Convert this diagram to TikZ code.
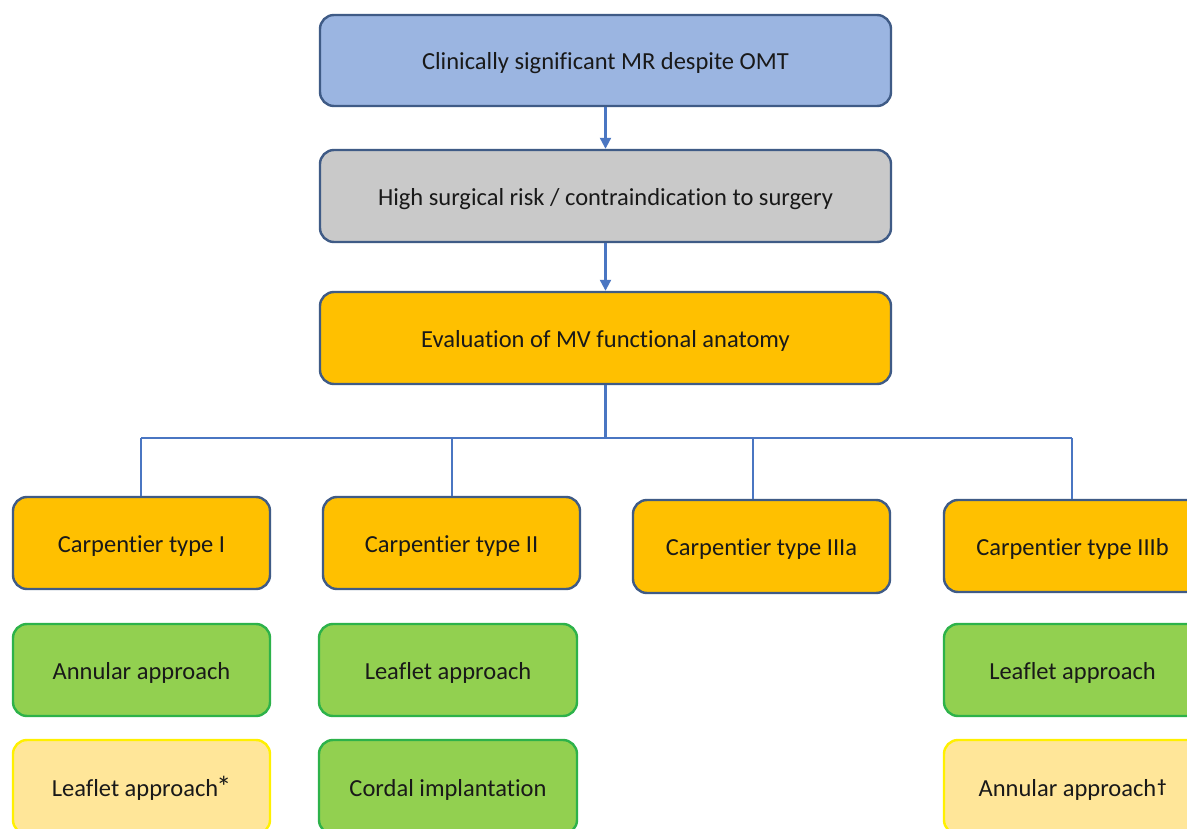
\documentclass[tikz,border=0pt]{standalone}
\usepackage{fontspec}
\setmainfont[Ligatures=CommonOff]{Carlito}
\usetikzlibrary{arrows.meta}
\definecolor{bluefill}{HTML}{9BB5E1}
\definecolor{grayfill}{HTML}{C9C9C9}
\definecolor{orangefill}{HTML}{FFC000}
\definecolor{greenfill}{HTML}{92D050}
\definecolor{greenline}{HTML}{2DB24A}
\definecolor{yellowfill}{HTML}{FFE699}
\definecolor{yellowline}{HTML}{FFF000}
\definecolor{darkline}{HTML}{3F5B86}
\definecolor{conn}{HTML}{4A76C2}
\tikzset{
  box/.style={draw=darkline, line width=2.4pt, rounded corners=14pt, inner sep=0pt, text height=18.5pt, text depth=0pt, font=\fontsize{24.5}{28}\selectfont, text=black!90},
  bluebox/.style={box, fill=bluefill},
  graybox/.style={box, fill=grayfill},
  orangebox/.style={box, fill=orangefill},
  greenbox/.style={box, fill=greenfill, draw=greenline},
  yellowbox/.style={box, fill=yellowfill, draw=yellowline},
  conline/.style={draw=conn, line width=2.2pt},
  arr/.style={conline, -{Triangle[width=11pt,length=11pt]}}
}
\begin{document}
\begin{tikzpicture}[x=1pt,y=-1pt]
\useasboundingbox (0,0) rectangle (1187,829);
\clip (0,0) rectangle (1187,829);
\fill[white] (0,0) rectangle (1187,829);
% main column
\node[bluebox, minimum width=571pt, minimum height=91pt] (a) at (605.5,60.5) {Clinically significant MR despite OMT};
\node[graybox, minimum width=571pt, minimum height=92pt] (b) at (605.5,196) {High surgical risk / contraindication to surgery};
\node[orangebox, minimum width=571pt, minimum height=92pt] (c) at (605.5,338) {Evaluation of MV functional anatomy};
% carpentier row
\node[orangebox, minimum width=257pt, minimum height=92pt] (t1) at (141.5,543) {Carpentier type I};
\node[orangebox, minimum width=257pt, minimum height=92pt] (t2) at (451.5,543) {Carpentier type II};
\node[orangebox, minimum width=257pt, minimum height=93pt] (t3) at (761.5,546.5) {Carpentier type IIIa};
\node[orangebox, minimum width=257pt, minimum height=92pt] (t4) at (1072.5,546) {Carpentier type IIIb};
% approaches
\node[greenbox, minimum width=257pt, minimum height=92pt] (g1) at (141.5,670) {Annular approach};
\node[greenbox, minimum width=258pt, minimum height=92pt] (g2) at (448,670) {Leaflet approach};
\node[greenbox, minimum width=257pt, minimum height=92pt] (g4) at (1072.5,670) {Leaflet approach};
\node[yellowbox, minimum width=257pt, minimum height=94pt] (y1) at (141.5,787) {Leaflet approach\kern-2pt\raisebox{-0.1ex}{\fontsize{30}{30}\selectfont*}};
\node[greenbox, minimum width=258pt, minimum height=94pt] (g3) at (448,787) {Cordal implantation};
\node[yellowbox, minimum width=257pt, minimum height=94pt] (y4) at (1072.5,787) {Annular approach\kern1pt\raisebox{0.3ex}{\fontsize{18}{18}\selectfont\bfseries\textdagger}};
% connectors
\draw[arr] (a.south) -- (b.north);
\draw[arr] (b.south) -- (c.north);
\coordinate (j) at (605.5,438);
\draw[conline] (c.south) -- (j);
\draw[conline] (141,438) -- (1072,438);
\draw[conline] (141,438) -- (t1.north -| 141,0);
\draw[conline] (452,438) -- (t2.north -| 452,0);
\draw[conline] (753,438) -- (t3.north -| 753,0);
\draw[conline] (1072,438) -- (t4.north -| 1072,0);
\end{tikzpicture}
\end{document}
